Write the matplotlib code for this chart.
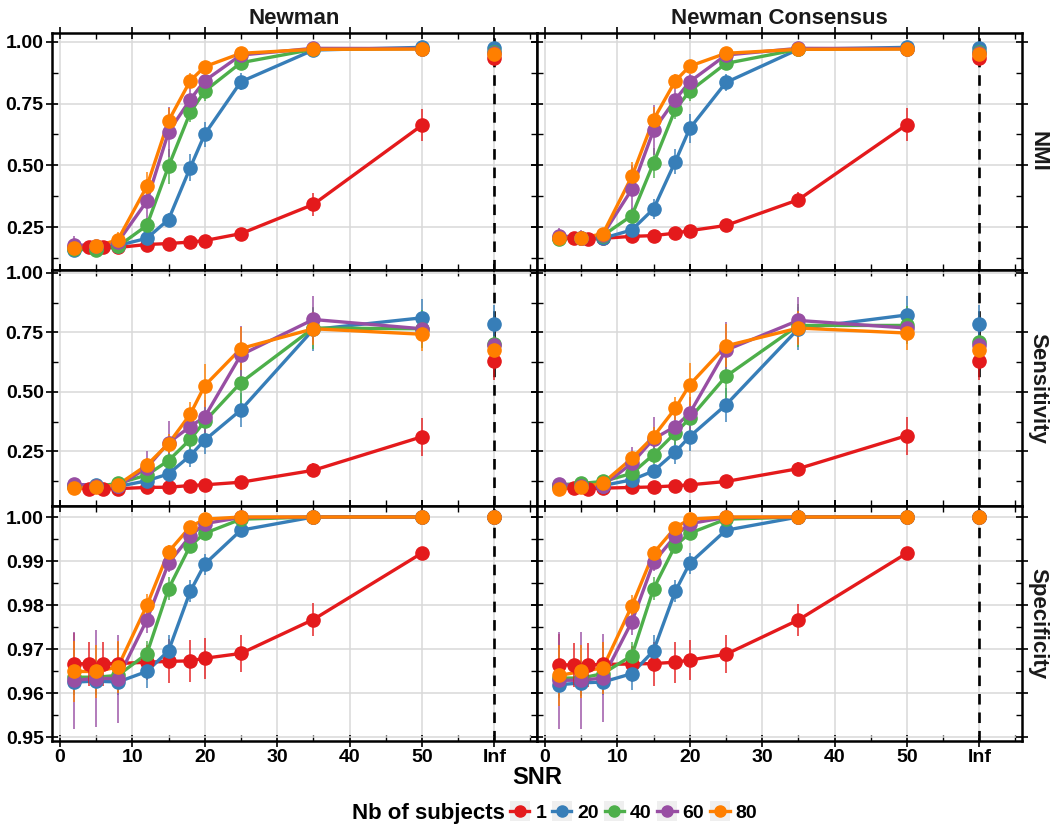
import numpy as np
import matplotlib
matplotlib.use("Agg")
import matplotlib.pyplot as plt
from matplotlib.lines import Line2D
from matplotlib.patches import Rectangle
from matplotlib.ticker import MultipleLocator

plt.rcParams["font.family"] = ["Liberation Sans", "DejaVu Sans"]
plt.rcParams["font.weight"] = "bold"

# ==========================
# 1) Data (read from the figure)
# ==========================
snr_single = [2, 4, 6, 8, 12, 15, 18, 20, 25, 35, 50]   # 1 subject
snr_group = [2, 5, 8, 12, 15, 18, 20, 25, 35, 50]       # 20..80 subjects
snr_inf = 60                                             # "Inf" position on the axis

subjects = [1, 20, 40, 60, 80]
colors = ["#E41A1C", "#377EB8", "#4DAF4A", "#984EA3", "#FF7F00"]

methods = ["Newman", "Newman Consensus"]
metrics = ["NMI", "Sensitivity", "Specificity"]

x_ticks = [0, 10, 20, 30, 40, 50, 60]
x_tick_labels = ["0", "10", "20", "30", "40", "50", "Inf"]

# last value of each list = SNR Inf
nmi_newman = {
    1: [0.168, 0.170, 0.170, 0.168, 0.180, 0.184, 0.190, 0.196, 0.224, 0.342, 0.662, 0.935],
    20: [0.158, 0.162, 0.176, 0.205, 0.281, 0.491, 0.626, 0.838, 0.966, 0.977, 0.976],
    40: [0.162, 0.158, 0.172, 0.257, 0.496, 0.714, 0.800, 0.915, 0.969, 0.972, 0.960],
    60: [0.178, 0.176, 0.190, 0.355, 0.635, 0.766, 0.842, 0.946, 0.973, 0.972, 0.953],
    80: [0.165, 0.173, 0.199, 0.415, 0.680, 0.842, 0.899, 0.953, 0.969, 0.970, 0.950],
}
nmi_newman_err = {
    1: [0.02, 0.02, 0.02, 0.02, 0.02, 0.02, 0.015, 0.015, 0.02, 0.047, 0.064, 0.015],
    20: [0.025, 0.02, 0.02, 0.02, 0.025, 0.055, 0.05, 0.035, 0.01, 0.01, 0.01],
    40: [0.02, 0.02, 0.02, 0.03, 0.07, 0.04, 0.04, 0.02, 0.01, 0.01, 0.01],
    60: [0.035, 0.02, 0.02, 0.09, 0.1, 0.05, 0.03, 0.015, 0.01, 0.01, 0.01],
    80: [0.02, 0.02, 0.03, 0.06, 0.05, 0.03, 0.02, 0.015, 0.01, 0.01, 0.01],
}
nmi_consensus = {
    1: [0.207, 0.205, 0.203, 0.205, 0.213, 0.216, 0.226, 0.236, 0.257, 0.361, 0.665, 0.935],
    20: [0.207, 0.207, 0.205, 0.239, 0.324, 0.515, 0.649, 0.835, 0.969, 0.977, 0.976],
    40: [0.203, 0.207, 0.216, 0.297, 0.509, 0.726, 0.800, 0.912, 0.969, 0.972, 0.960],
    60: [0.216, 0.207, 0.220, 0.403, 0.642, 0.766, 0.838, 0.946, 0.973, 0.972, 0.953],
    80: [0.207, 0.207, 0.223, 0.455, 0.685, 0.841, 0.901, 0.953, 0.969, 0.970, 0.950],
}
nmi_consensus_err = {
    1: [0.02, 0.025, 0.025, 0.02, 0.02, 0.02, 0.02, 0.015, 0.015, 0.03, 0.065, 0.015],
    20: [0.02, 0.02, 0.02, 0.025, 0.04, 0.05, 0.06, 0.035, 0.01, 0.01, 0.01],
    40: [0.02, 0.02, 0.02, 0.03, 0.06, 0.04, 0.04, 0.02, 0.01, 0.01, 0.01],
    60: [0.03, 0.03, 0.02, 0.1, 0.1, 0.05, 0.03, 0.015, 0.01, 0.01, 0.01],
    80: [0.02, 0.02, 0.025, 0.06, 0.05, 0.03, 0.02, 0.015, 0.01, 0.01, 0.01],
}

sens_newman = {
    1: [0.098, 0.093, 0.093, 0.093, 0.098, 0.099, 0.106, 0.109, 0.120, 0.170, 0.311, 0.630],
    20: [0.109, 0.109, 0.102, 0.126, 0.155, 0.232, 0.297, 0.424, 0.762, 0.811, 0.786],
    40: [0.105, 0.102, 0.115, 0.150, 0.211, 0.300, 0.376, 0.539, 0.768, 0.765, 0.703],
    60: [0.112, 0.105, 0.102, 0.181, 0.286, 0.354, 0.395, 0.655, 0.804, 0.765, 0.696],
    80: [0.095, 0.098, 0.109, 0.192, 0.282, 0.406, 0.526, 0.682, 0.765, 0.742, 0.675],
}
sens_newman_err = {
    1: [0.01, 0.01, 0.01, 0.01, 0.01, 0.01, 0.01, 0.01, 0.015, 0.03, 0.08, 0.08],
    20: [0.01, 0.01, 0.01, 0.02, 0.03, 0.05, 0.06, 0.07, 0.09, 0.08, 0.08],
    40: [0.01, 0.01, 0.01, 0.02, 0.04, 0.05, 0.06, 0.1, 0.09, 0.08, 0.03],
    60: [0.01, 0.01, 0.01, 0.07, 0.09, 0.06, 0.07, 0.12, 0.1, 0.06, 0.03],
    80: [0.01, 0.01, 0.01, 0.03, 0.04, 0.05, 0.09, 0.09, 0.07, 0.07, 0.05],
}
sens_consensus = {
    1: [0.098, 0.095, 0.093, 0.095, 0.098, 0.100, 0.105, 0.109, 0.123, 0.177, 0.316, 0.630],
    20: [0.106, 0.105, 0.106, 0.130, 0.167, 0.247, 0.312, 0.445, 0.765, 0.823, 0.786],
    40: [0.109, 0.115, 0.123, 0.157, 0.236, 0.327, 0.388, 0.565, 0.779, 0.779, 0.710],
    60: [0.112, 0.105, 0.106, 0.199, 0.302, 0.354, 0.410, 0.675, 0.800, 0.768, 0.696],
    80: [0.093, 0.098, 0.116, 0.220, 0.312, 0.430, 0.530, 0.693, 0.768, 0.747, 0.675],
}
sens_consensus_err = sens_newman_err

spec_newman = {
    1: [0.9667, 0.9666, 0.9667, 0.9667, 0.9670, 0.9672, 0.9673, 0.9679, 0.9690, 0.9767, 0.9918, 1.0],
    20: [0.9625, 0.9627, 0.9625, 0.9649, 0.9696, 0.9831, 0.9893, 0.9970, 1.0, 1.0, 1.0],
    40: [0.9636, 0.9636, 0.9640, 0.9689, 0.9837, 0.9935, 0.9963, 0.9995, 1.0, 1.0, 1.0],
    60: [0.9629, 0.9633, 0.9633, 0.9766, 0.9895, 0.9957, 0.9985, 0.9999, 1.0, 1.0, 1.0],
    80: [0.9649, 0.9649, 0.9659, 0.9799, 0.9921, 0.9978, 0.9995, 1.0, 1.0, 1.0, 1.0],
}
spec_newman_err = {
    1: [0.007, 0.005, 0.005, 0.005, 0.004, 0.005, 0.0047, 0.0046, 0.0043, 0.0037, 0.0013, 0.0],
    20: [0.003, 0.003, 0.003, 0.0037, 0.0036, 0.0025, 0.0024, 0.0008, 0.0, 0.0, 0.0],
    40: [0.004, 0.004, 0.004, 0.003, 0.0026, 0.001, 0.001, 0.0003, 0.0, 0.0, 0.0],
    60: [0.011, 0.011, 0.010, 0.003, 0.002, 0.001, 0.0005, 0.0, 0.0, 0.0, 0.0],
    80: [0.007, 0.006, 0.006, 0.0025, 0.0015, 0.0007, 0.0003, 0.0, 0.0, 0.0, 0.0],
}
spec_consensus = {
    1: [0.9664, 0.9664, 0.9664, 0.9665, 0.9666, 0.9667, 0.9670, 0.9675, 0.9688, 0.9766, 0.9918, 1.0],
    20: [0.9619, 0.9623, 0.9625, 0.9644, 0.9696, 0.9831, 0.9895, 0.9970, 1.0, 1.0, 1.0],
    40: [0.9634, 0.9634, 0.9644, 0.9685, 0.9837, 0.9935, 0.9963, 0.9995, 1.0, 1.0, 1.0],
    60: [0.9629, 0.9629, 0.9634, 0.9762, 0.9897, 0.9957, 0.9985, 0.9999, 1.0, 1.0, 1.0],
    80: [0.9640, 0.9649, 0.9657, 0.9798, 0.9918, 0.9976, 0.9995, 1.0, 1.0, 1.0, 1.0],
}
spec_consensus_err = spec_newman_err

panel_data = [
    [(nmi_newman, nmi_newman_err), (nmi_consensus, nmi_consensus_err)],
    [(sens_newman, sens_newman_err), (sens_consensus, sens_consensus_err)],
    [(spec_newman, spec_newman_err), (spec_consensus, spec_consensus_err)],
]

y_limits = [(0.077, 1.035), (0.02, 1.012), (0.9491, 1.0025)]
y_ticks = [
    [0.25, 0.50, 0.75, 1.00],
    [0.25, 0.50, 0.75, 1.00],
    [0.95, 0.96, 0.97, 0.98, 0.99, 1.00],
]
y_minor = [0.125, 0.125, 0.005]

# ==========================
# 2) Figure and panel layout (pixels -> figure fraction)
# ==========================
W, H = 1051, 825
fig = plt.figure(figsize=(W / 100, H / 100), dpi=100)

col_left = [52, 537]
panel_w = 485
row_top = [33, 270, 506]
row_bot = [270, 506, 741]

for r in range(3):
    for c in range(2):
        ax = fig.add_axes([col_left[c] / W, 1 - row_bot[r] / H,
                           panel_w / W, (row_bot[r] - row_top[r]) / H])
        means, errs = panel_data[r][c]

        ax.axvline(snr_inf, color="black", lw=1.9, ls=(0, (4, 3)), zorder=2)

        # lines first, then error bars, then points
        for s, col in zip(subjects, colors):
            xs = snr_single if s == 1 else snr_group
            ax.plot(xs, means[s][:-1], color=col, lw=2.4, zorder=3,
                    solid_capstyle="round")
        for s, col in zip(subjects, colors):
            xs = (snr_single if s == 1 else snr_group) + [snr_inf]
            y = np.array(means[s])
            e = np.array(errs[s])
            ax.vlines(xs, y - e, y + e, color=col, lw=1.3, alpha=0.8, zorder=4)
        for s, col in zip(subjects, colors):
            xs = (snr_single if s == 1 else snr_group) + [snr_inf]
            ax.plot(xs, means[s], ls="none", marker="o", ms=9.5,
                    color=col, mec=col, zorder=5)

        ax.set_xlim(-1.1, 65.9)
        ax.set_ylim(*y_limits[r])
        ax.set_xticks(x_ticks)
        ax.set_yticks(y_ticks[r])
        ax.xaxis.set_minor_locator(MultipleLocator(5))
        ax.yaxis.set_minor_locator(MultipleLocator(y_minor[r]))

        ax.grid(True, which="major", color="#D9D9D9", lw=1.1)
        ax.set_axisbelow(True)
        for sp in ax.spines.values():
            sp.set_linewidth(1.8)
            sp.set_color("black")

        ax.tick_params(which="major", direction="inout", length=8, width=1.2,
                       top=True, right=True, labelsize=14, colors="black", pad=2)
        ax.tick_params(which="minor", direction="in", length=4, width=1.0,
                       top=True, right=True)

        if r == 2:
            ax.set_xticklabels(x_tick_labels)
        else:
            ax.set_xticklabels([])
        if c == 0:
            ax.set_yticklabels([f"{v:.2f}" for v in y_ticks[r]])
        else:
            ax.set_yticklabels([])
        for lab in ax.get_xticklabels() + ax.get_yticklabels():
            lab.set_fontweight("bold")

        # facet strips
        if r == 0:
            fig.text((col_left[c] + panel_w / 2) / W, 1 - 18 / H, methods[c],
                     ha="center", va="center", fontsize=16, fontweight="bold",
                     color="#1A1A1A")
        if c == 1:
            fig.text(1038 / W, 1 - (row_top[r] + row_bot[r]) / 2 / H, metrics[r],
                     ha="center", va="center", rotation=270, fontsize=16,
                     fontweight="bold", color="#1A1A1A")

# ==========================
# 3) Axis title and legend
# ==========================
fig.text(537 / W, 1 - 778 / H, "SNR", ha="center", va="center",
         fontsize=17, fontweight="bold")

legend_y = 1 - 813 / H
fig.text(505 / W, legend_y, "Nb of subjects", ha="right", va="center",
         fontsize=16, fontweight="bold")
handles = [Line2D([0], [0], color=col, lw=2.4, marker="o", ms=8) for col in colors]
leg = fig.legend(handles, [str(s) for s in subjects], loc="center left",
                 bbox_to_anchor=(510 / W, legend_y), ncol=5, frameon=False,
                 fontsize=14, handlelength=1.0, handletextpad=0.3,
                 columnspacing=0.3, borderaxespad=0, borderpad=0)

# light grey key boxes behind the legend glyphs
fig.canvas.draw()
renderer = fig.canvas.get_renderer()
for h in leg.legend_handles:
    bb = h.get_window_extent(renderer)
    cx, cy = (bb.x0 + bb.x1) / 2, (bb.y0 + bb.y1) / 2
    fig.add_artist(Rectangle(((cx - 10) / W, (cy - 10) / H), 20 / W, 20 / H,
                             transform=fig.transFigure, facecolor="#EFEFEF",
                             edgecolor="none", zorder=0))

fig.savefig("out.png", dpi=100)
